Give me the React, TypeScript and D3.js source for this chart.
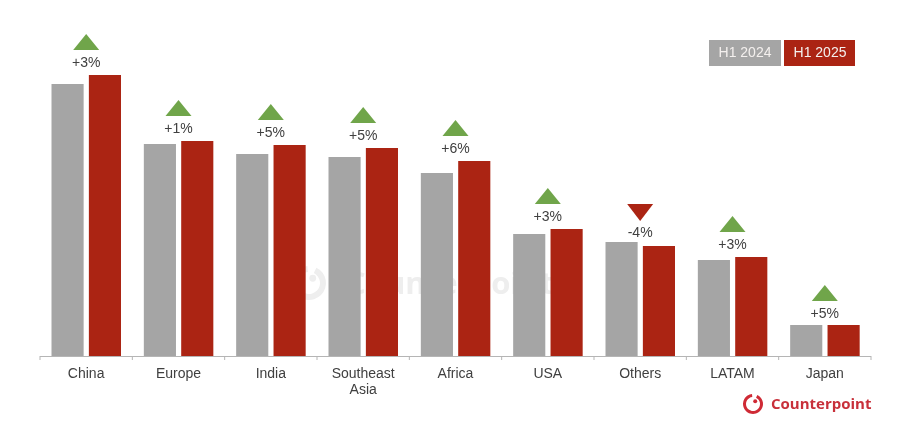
import * as d3 from 'd3'

const REGIONS = ['China', 'Europe', 'India', 'Southeast Asia', 'Africa', 'USA', 'Others', 'LATAM', 'Japan']
const H1_2024 = [272, 212, 202, 199, 183, 122, 114, 96, 31]
const H1_2025 = [281, 215, 211, 208, 195, 127, 110, 99, 31]
const YOY = ['+3%', '+1%', '+5%', '+5%', '+6%', '+3%', '-4%', '+3%', '+5%']
const MARKER_LEVEL = [294, 228, 224, 221, 208, 140, 124, 112, 43]
const SERIES = ['H1 2024', 'H1 2025']

const GREY = '#a5a5a5'
const RED = '#ab2413'
const GREEN = '#70a54a'
const TEXT = '#404040'
const FONT = '"Liberation Sans", Arial, sans-serif'

const width = 900
const height = 425
const baseline = 356

const x = d3.scaleBand<string>().domain(REGIONS).range([40, 871])
const bars = d3.scaleBand<string>().domain(SERIES).range([11.5, 81]).paddingInner(0.14)
const y = d3.scaleLinear().domain([0, 300]).range([baseline, 56])

const ringArc = d3.arc()

function Logo({ cx, cy, r, stroke, color }: { cx: number; cy: number; r: number; stroke: number; color: string }) {
  const d = ringArc({ innerRadius: r - stroke, outerRadius: r, startAngle: 0.45, endAngle: Math.PI * 2 - 0.1 })
  return (
    <g transform={`translate(${cx},${cy})`}>
      <path d={d ?? ''} fill={color} />
      <circle cx={r * 0.22} cy={-r * 0.28} r={r * 0.2} fill={color} />
    </g>
  )
}

export default function App() {
  return (
    <svg
      width={width}
      height={height}
      style={{ position: 'absolute', left: 0, top: 0, background: '#fff', fontFamily: FONT, filter: 'blur(0.4px)' }}
    >
      {/* watermark */}
      <Logo cx={309} cy={283} r={17} stroke={6} color="#eeeeee" />
      <text x={346} y={294} fontSize={31} fontWeight={700} fill="#eeeeee" fontFamily='"Open Sans", sans-serif'>
        Counterpoint
      </text>

      {REGIONS.map((region, i) => {
        const gx = x(region) ?? 0
        const cx = gx + x.bandwidth() / 2
        const level = y(MARKER_LEVEL[i])
        const up = YOY[i].startsWith('+')
        // triangle sits above the percentage label
        const tri = up
          ? `M${cx - 13},${level - 12} L${cx},${level - 28} L${cx + 13},${level - 12} Z`
          : `M${cx - 13},${level - 28} L${cx},${level - 11} L${cx + 13},${level - 28} Z`
        return (
          <g key={region}>
            <rect
              x={gx + (bars('H1 2024') ?? 0)}
              y={y(H1_2024[i])}
              width={bars.bandwidth()}
              height={baseline - y(H1_2024[i])}
              fill={GREY}
            />
            <rect
              x={gx + (bars('H1 2025') ?? 0)}
              y={y(H1_2025[i])}
              width={bars.bandwidth()}
              height={baseline - y(H1_2025[i])}
              fill={RED}
            />
            <path d={tri} fill={up ? GREEN : RED} />
            <text x={cx} y={level + 1} textAnchor="middle" dominantBaseline="middle" fontSize={14} fill={TEXT}>
              {YOY[i]}
            </text>
            {region.split(' ').map((word, k) => (
              <text key={word} x={cx} y={378 + k * 16} textAnchor="middle" fontSize={14} fill={TEXT}>
                {word}
              </text>
            ))}
          </g>
        )
      })}

      {/* axis */}
      <line x1={40} x2={871} y1={baseline + 0.5} y2={baseline + 0.5} stroke="#b5b5b5" />
      {d3.range(REGIONS.length + 1).map(i => {
        const tx = 40 + i * x.step()
        return <line key={i} x1={tx} x2={tx} y1={baseline} y2={baseline + 4} stroke="#b5b5b5" />
      })}

      {/* legend */}
      {SERIES.map((s, i) => (
        <g key={s} transform={`translate(${709 + i * 75},40)`}>
          <rect width={i === 0 ? 72 : 71} height={26} fill={i === 0 ? GREY : RED} />
          <text x={36} y={13.5} textAnchor="middle" dominantBaseline="middle" fontSize={14} fill="#f4f0ee">
            {s}
          </text>
        </g>
      ))}

      {/* logo */}
      <Logo cx={753} cy={404} r={10} stroke={3} color="#cf2a35" />
      <text x={771} y={409} fontSize={15} fontWeight={700} fill="#c8303a" fontFamily='"Open Sans", sans-serif'>
        Counterpoint
      </text>
    </svg>
  )
}
